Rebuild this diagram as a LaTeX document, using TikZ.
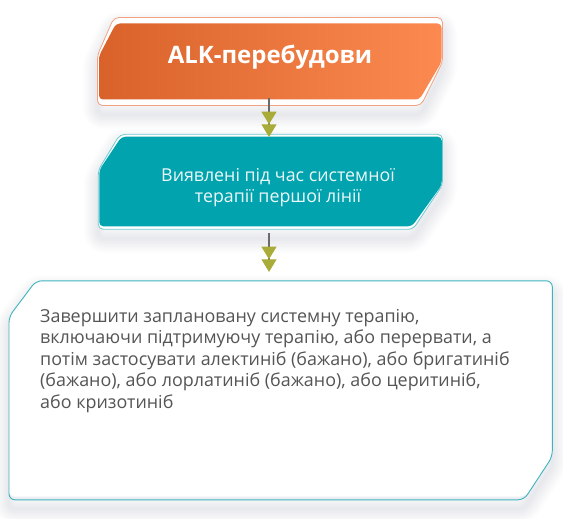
\documentclass[tikz,border=0pt]{standalone}
\usepackage{fontspec}
\setmainfont{Open Sans}
\usetikzlibrary{arrows.meta}
\definecolor{orL}{HTML}{D8622A}
\definecolor{orR}{HTML}{FC8A50}
\definecolor{orB}{HTML}{F0A282}
\definecolor{tealF}{HTML}{00A3AE}
\definecolor{tealB}{HTML}{6CCAD0}
\definecolor{tealC}{HTML}{3DB3BE}
\definecolor{olv}{HTML}{A9AC38}
\definecolor{lineg}{HTML}{6B6B6B}
\definecolor{txtg}{HTML}{555555}
\definecolor{shd}{HTML}{3A4060}
\definecolor{band}{HTML}{ECEEF2}
\newcommand\ShapeA{(114,17.5) -- (442.5,17.5) -- (442.5,62) -- (421,105.5) -- (97.5,105.5) -- (97.5,55) -- cycle}
\newcommand\ShapeB{(120,134.3) -- (442.5,134.3) -- (442.5,185) -- (413,229.3) -- (98.3,229.3) -- (98.3,170) -- cycle}
\newcommand\ShapeC{(36,280.8) -- (552.3,280.8) -- (552.3,456.7) -- (524,499.8) -- (9,499.8) -- (9,316.7) -- cycle}
\tikzset{
  shadowlayer/.style={draw=shd, line width=#1, opacity=0.010, rounded corners=6pt, line join=round},
  flow/.style={draw=lineg, line width=1.3pt,
    -{Triangle[width=15pt,length=12.7pt,color=olv]Triangle[width=15pt,length=12.7pt,color=olv]}},
}
\begin{document}
\begin{tikzpicture}[x=1pt,y=-1pt]
\useasboundingbox (0,0) rectangle (563,519);
% ---- soft shadows ----
\begin{scope}[yshift=-9pt]
  \foreach \w in {2,5,...,29} {
    \draw[shadowlayer=\w pt] \ShapeA;
    \draw[shadowlayer=\w pt] \ShapeB;
    \draw[shadowlayer=\w pt] \ShapeC;
  }
\end{scope}
% ---- box 1 (orange) ----
\path[draw=orB, line width=0.8pt, fill=white, rounded corners=5pt] \ShapeA;
\path[left color=orL, right color=orR, rounded corners=4pt]
  (116,23.5) -- (441.5,23.5) -- (441.5,62) -- (419.5,99.5) -- (99,99.5) -- (99,56) -- cycle;
\node[font=\bfseries\fontsize{24}{28}\selectfont, text=white, anchor=base] (t1) at (270,63.3) {ALK-перебудови};
% ---- box 2 (teal) ----
\path[draw=tealB, line width=0.8pt, fill=white, rounded corners=5pt] \ShapeB;
\path[fill=tealF, rounded corners=4pt]
  (121.5,136.7) -- (441.8,136.7) -- (441.8,185) -- (412,226.3) -- (99.3,226.3) -- (99.3,170) -- cycle;
\node[font=\fontsize{17.8}{20.5}\selectfont, text=white!93!tealF, align=center, anchor=base] (t2) at (278,202)
  {Виявлені під час системної\\терапії першої лінії};
% ---- box 3 (white) ----
\path[fill=band, rounded corners=6pt] \ShapeC;
\path[fill=white, rounded corners=6pt]
  (36,280.8) -- (552.3,280.8) -- (552.3,456.7) -- (526,496.5) -- (9,496.5) -- (9,316.7) -- cycle;
\path[draw=tealC, line width=0.9pt, rounded corners=6pt] \ShapeC;
\node[font=\fontsize{17.9}{21.5}\selectfont, text=txtg, align=left, anchor=base west, inner sep=0pt] (t3) at (40,408.3)
  {Завершити заплановану системну терапію,\\
   включаючи підтримуючу терапію, або перервати, а\\
   потім застосувати алектиніб (бажано), або бригатиніб\\
   (бажано), або лорлатиніб (бажано), або церитиніб,\\
   або кризотиніб};
% ---- connectors ----
\coordinate (b1s) at (269,98);
\coordinate (b2n) at (269,137);
\coordinate (b2s) at (269,233);
\coordinate (b3n) at (269,272);
\draw[flow] (b1s) -- (b2n);
\draw[flow] (b2s) -- (b3n);
\end{tikzpicture}
\end{document}
